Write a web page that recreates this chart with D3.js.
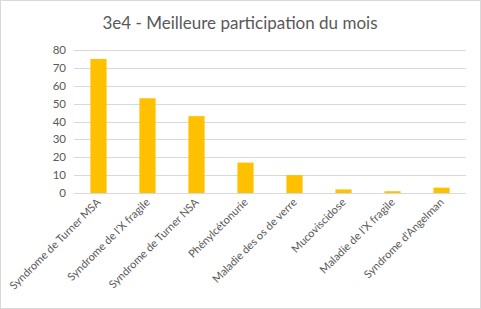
<!DOCTYPE html>
<html><head><meta charset="utf-8">
<script src="https://cdn.jsdelivr.net/npm/d3@7"></script>
<style>body{margin:0;background:#fff}svg{display:block}</style>
</head><body>
<script>
const categories = ["Syndrome de Turner MSA","Syndrome de l'X fragile","Syndrome de Turner NSA","Phénylcétonurie","Maladie des os de verre","Mucoviscidose","Maladie de l'X fragile","Syndrome d'Angelman"];
const values = [75,53,43,17,10,2,1,3];
const yTicks = [0,10,20,30,40,50,60,70,80];
const title = "3e4 - Meilleure participation du mois";

const W=481,H=309;
const svg=d3.select("body").append("svg").attr("width",W).attr("height",H);
svg.append("rect").attr("x",0.5).attr("y",0.5).attr("width",W-1).attr("height",H-1).attr("fill","#fff").attr("stroke","#d9d9d9");
const font="Lato, 'Open Sans', sans-serif";
svg.append("text").attr("x",240).attr("y",29).attr("text-anchor","middle").attr("font-family",font).attr("font-size",17).attr("fill","#595959").text(title);

const x=d3.scaleBand().domain(categories).range([74,466]).paddingInner(0.67).paddingOuter(0.335);
const y=d3.scaleLinear().domain([0,80]).range([193,50]);

const g=svg.append("g");
g.selectAll("line.grid").data(yTicks).join("line").attr("class","grid")
 .attr("x1",74).attr("x2",466).attr("y1",d=>Math.round(y(d))+0.5).attr("y2",d=>Math.round(y(d))+0.5)
 .attr("stroke","#d9d9d9").attr("stroke-width",1);
g.selectAll("text.yt").data(yTicks).join("text").attr("class","yt")
 .attr("x",66).attr("y",d=>y(d)+4).attr("text-anchor","end").attr("font-family",font).attr("font-size",11.5).attr("fill","#595959").text(d=>d);

g.selectAll("rect.bar").data(values).join("rect").attr("class","bar")
 .attr("x",(d,i)=>x(categories[i])).attr("width",x.bandwidth())
 .attr("y",d=>y(d)).attr("height",d=>y(0)-y(d)).attr("fill","#FFC000");

g.selectAll("text.xt").data(categories).join("text").attr("class","xt")
 .attr("transform",d=>`translate(${x(d)+x.bandwidth()/2+3},${203}) rotate(-45)`)
 .attr("text-anchor","end").attr("font-family",font).attr("font-size",11).attr("fill","#595959").text(d=>d);
</script>
</body></html>
